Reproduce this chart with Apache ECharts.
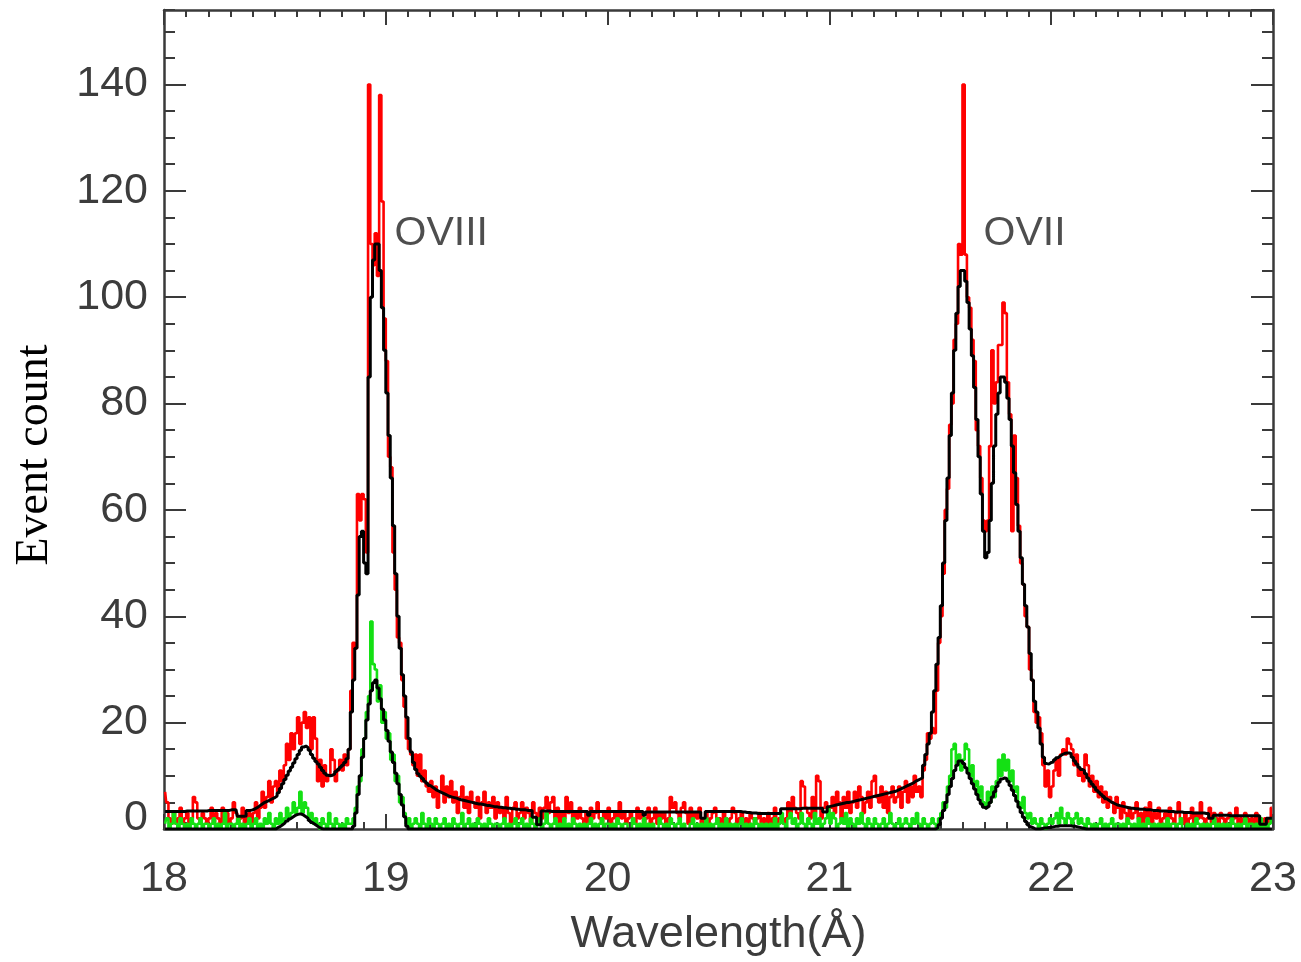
<!DOCTYPE html>
<html>
<head>
<meta charset="utf-8">
<script src="https://cdn.jsdelivr.net/npm/echarts@6/dist/echarts.min.js"></script>
<style>
html,body{margin:0;padding:0;background:#fff;}
#chart{width:1301px;height:962px;}
</style>
</head>
<body>
<div id="chart"></div>
<script>
// Wavelength grid: bins of 0.01 Angstrom starting at 18.00
const binStart = 18.0;
const binWidth = 0.01;
const xTicks = [18, 19, 20, 21, 22, 23];
const yTicks = [0, 20, 40, 60, 80, 100, 120, 140];

// Observed counts (red), one value per 0.01 A bin, 18.00 -> 22.99
const redCounts = [
 7,5,2,1,3,1,2,4,1,2,
 3,1,2,6,5,2,1,3,2,1,
 2,4,1,3,2,1,4,2,3,1,
 2,5,3,1,2,4,1,2,3,1,
 3,5,2,4,7,4,6,9,5,8,
 9,7,11,9,12,16,13,18,15,18,
 21,16,20,22,19,21,15,21,17,9,
 13,8,12,9,10,15,13,9,11,13,
 11,14,12,15,26,35,34,63,58,63,
 62,52,140,110,106,112,104,138,118,96,
 88,70,68,52,45,36,35,28,23,17,
 15,14,12,14,10,14,9,11,8,7,
 9,6,8,4,7,10,5,8,6,9,
 5,7,3,6,8,4,6,3,7,5,
 4,6,2,5,7,3,5,4,6,2,
 5,3,4,2,6,3,1,4,5,2,
 3,5,2,4,3,1,5,3,2,4,
 2,4,6,3,5,6,2,4,1,3,
 2,6,3,5,1,3,2,4,2,1,
 3,1,4,2,3,5,2,1,3,2,
 4,1,2,3,1,5,2,3,1,2,
 3,2,1,4,2,3,1,2,4,1,
 2,4,1,3,2,3,1,2,6,4,
 5,3,2,4,5,3,1,4,2,3,
 2,4,1,2,3,1,2,3,4,1,
 2,1,3,2,1,2,4,3,1,2,
 3,1,2,1,3,2,1,2,3,1,
 2,1,3,1,2,4,1,2,2,1,
 2,5,3,6,4,3,2,9,8,4,
 3,2,6,3,10,9,2,4,5,3,
 4,6,3,7,5,2,6,4,7,3,
 5,7,4,8,6,3,5,7,4,9,
 10,6,5,8,4,7,3,6,8,5,
 6,8,4,7,9,5,8,6,10,7,
 8,6,11,13,18,17,19,18,26,35,
 40,48,60,64,76,80,92,95,110,108,
 140,108,100,98,92,88,75,72,66,58,
 56,58,72,90,80,84,91,91,99,97,
 84,78,56,74,66,57,50,46,40,38,
 30,28,22,20,21,18,12,8,11,6,
 8,11,13,10,14,15,14,17,16,15,
 12,14,10,11,9,14,12,8,10,7,
 9,6,8,5,7,4,6,5,3,6,
 4,2,5,3,1,4,2,3,5,2,
 3,1,4,2,5,1,3,2,4,1,
 2,3,1,4,2,1,3,5,2,1,
 3,1,2,4,1,3,2,5,2,1,
 2,4,1,3,2,1,3,2,1,2,
 3,1,2,4,1,2,1,3,2,1,
 2,1,3,1,2,1,2,1,2,4
];

// Model for the red counts (black line)
const redModel = [
 3.3,3.3,3.3,3.3,3.3,3.3,3.3,3.3,3.3,3.3,
 3.4,3.4,3.4,3.4,3.4,3.4,3.4,3.4,3.4,3.4,
 3.5,3.5,3.5,3.5,3.5,3.5,3.5,3.5,3.5,3.5,
 3.6,3.6,3.6,2.4,2.4,2.4,2.4,3.5,3.5,3.6,
 3.8,4.0,4.3,4.6,4.9,5.1,5.3,5.5,5.7,5.9,
 6.2,6.8,7.6,8.5,9.3,10.1,10.9,11.6,12.4,13.2,
 14.0,14.8,15.4,15.6,15.3,14.8,14.0,13.3,12.7,12.2,
 11.6,11.0,10.5,10.1,10.0,10.1,10.4,10.8,11.2,11.6,
 12.0,12.5,13.2,15,22,28,34,44,55,56,
 50,48,85,100,107,110,110,105,98,90,
 82,74,66,57,48,40,34,29,25,21,
 17,14.5,12.5,11.2,10.4,9.9,9.5,9.0,8.6,8.2,
 7.9,7.6,7.3,7.1,6.9,6.7,6.5,6.3,6.1,6.0,
 5.9,5.8,5.6,5.5,5.4,5.3,5.2,5.1,5.0,4.9,
 4.8,4.7,4.7,4.6,4.5,4.4,4.4,4.3,4.2,4.2,
 4.1,4.1,4.0,4.0,3.9,3.9,3.8,3.8,3.7,3.7,
 3.6,3.6,3.6,3.5,3.5,3.5,2.2,2.2,0.8,0.8,
 3.4,3.4,3.4,3.4,3.3,3.3,3.3,3.3,3.3,3.3,
 3.3,3.3,3.3,3.3,3.3,3.3,3.3,3.3,3.3,3.3,
 3.3,2.6,3.3,3.3,3.3,3.3,3.3,3.3,3.3,3.3,
 3.3,3.3,3.3,3.3,3.3,3.3,3.3,3.3,3.3,3.3,
 3.3,3.3,3.3,3.3,3.3,3.3,2.6,3.2,3.2,3.2,
 3.2,3.2,3.2,3.2,3.2,3.2,3.2,3.2,3.2,3.2,
 3.2,3.2,3.2,3.2,3.2,3.2,3.2,3.2,3.2,3.2,
 3.2,3.2,2.0,2.0,3.3,3.3,3.3,3.3,3.3,3.3,
 3.3,3.3,3.3,3.3,3.3,3.3,3.3,3.3,3.3,3.3,
 3.2,3.2,3.1,3.1,3.0,3.0,3.0,2.9,2.9,2.9,
 2.9,2.9,2.9,2.9,2.9,2.9,2.9,2.9,3.8,3.8,
 3.8,3.8,3.8,3.8,3.8,3.8,3.8,3.9,3.9,3.9,
 3.9,3.9,3.9,3.9,3.9,3.9,3.9,3.2,3.2,4.2,
 4.3,4.4,4.5,4.6,4.7,4.8,4.9,5.0,5.0,5.1,
 5.2,5.3,5.4,5.5,5.6,5.7,5.8,5.9,6.0,6.1,
 6.2,6.3,6.4,6.5,6.6,6.7,6.8,6.9,7.0,7.1,
 7.3,7.5,7.7,7.9,8.1,8.3,8.5,8.7,9.0,9.2,
 9.4,9.6,12,14,16,18,22,26,31,36,
 42,50,58,66,74,82,90,97,102,105,
 105,103,99,94,89,83,77,70,63,56,
 51,52,58,65,72,78,82,85,85,84,
 81,77,72,67,61,56,51,46,42,38,
 33,28,24,22,19,16,13.5,12.3,12.2,12.5,
 12.6,13.0,13.4,13.7,14.0,14.2,14.3,14.3,14.2,13.5,
 12.8,12.2,11.6,11.2,11.0,10.4,9.6,9.0,8.4,7.9,
 7.3,6.9,6.5,6.1,5.7,5.4,5.1,4.9,4.7,4.5,
 4.4,4.3,4.2,4.1,4.0,3.9,3.9,3.8,3.8,3.7,
 3.7,3.7,3.6,3.6,3.6,3.5,3.5,3.5,3.4,3.4,
 3.4,3.4,3.3,3.3,3.3,3.2,3.2,3.2,3.2,3.1,
 3.1,3.1,3.1,3.0,3.0,3.0,3.0,3.0,3.0,2.9,
 2.9,2.0,2.0,2.6,2.6,2.6,2.6,2.6,2.6,2.6,
 2.5,2.5,2.5,2.5,2.5,2.5,2.5,2.5,2.5,2.5,
 2.5,2.5,2.5,2.5,0.9,0.9,0.9,2.0,2.0,2.0
];

// Second data set (green)
const greenCounts = [
 1,2,0,1,3,1,0,2,1,0,
 1,0,2,1,0,1,2,0,1,1,
 0,1,2,0,1,0,1,3,0,1,
 1,0,1,2,0,1,0,1,2,0,
 1,2,0,1,0,2,1,3,1,0,
 2,1,3,1,2,4,2,3,5,3,
 4,7,3,5,4,2,3,1,2,1,
 0,2,1,0,3,1,0,2,1,0,
 1,0,2,1,1,2,4,8,9,15,
 17,22,25,39,31,30,24,27,20,22,
 17,18,13,14,9,10,5,6,3,1,
 2,0,1,2,1,0,3,1,0,2,
 1,0,2,1,0,1,2,0,1,0,
 2,1,0,1,3,0,1,2,0,1,
 0,2,1,0,1,0,2,1,0,1,
 1,0,1,2,0,1,0,1,2,0,
 1,2,0,1,0,2,1,0,1,2,
 0,1,3,1,0,1,2,0,1,0,
 2,0,1,0,2,1,0,1,0,1,
 0,1,2,0,1,0,1,2,0,1,
 1,0,1,0,2,1,0,1,1,0,
 0,2,1,0,1,0,2,0,1,0,
 1,0,0,2,1,0,1,0,2,1,
 0,1,2,0,1,0,0,1,2,0,
 1,0,1,0,2,0,1,0,1,2,
 0,1,0,2,0,1,0,1,0,1,
 2,0,1,0,1,0,2,1,0,1,
 0,1,0,1,0,2,0,1,3,1,
 0,2,3,1,2,0,1,3,1,0,
 2,1,0,3,1,2,0,1,2,4,
 1,3,2,0,1,2,1,3,0,2,
 1,0,2,1,3,1,0,2,1,0,
 2,1,0,1,2,0,1,3,1,0,
 1,2,0,1,2,1,0,2,1,3,
 1,0,2,1,0,1,2,1,0,2,
 3,5,4,8,10,15,16,12,14,11,
 13,16,15,10,12,8,9,6,8,5,
 4,7,5,8,6,9,13,10,14,11,
 13,9,11,7,8,5,4,6,3,2,
 3,1,2,1,0,2,1,0,1,2,
 1,2,3,1,4,2,1,3,2,1,
 2,3,1,2,1,0,2,1,0,1,
 0,1,2,0,1,0,1,2,0,1,
 1,0,1,0,2,1,0,1,0,2,
 0,1,0,2,1,0,1,0,1,0,
 1,0,2,0,1,1,0,1,2,0,
 0,1,0,1,0,2,1,0,1,0,
 1,0,1,2,0,1,0,1,0,1,
 0,2,1,0,1,0,1,2,0,1,
 1,0,1,0,2,0,1,0,1,2
];

// Model for the green counts (black line at the bottom)
const greenModel = [
 0,0,0,0,0,0,0,0,0,0,
 0,0,0,0,0,0,0,0,0,0,
 0,0,0,0,0,0,0,0,0,0,
 0,0,0,0,0,0,0,0,0,0,
 0,0,0,0,0,0,0,0,0,0,
 0,0.3,0.5,0.8,1.1,1.5,1.9,2.2,2.5,2.7,
 2.8,2.8,2.6,2.3,2.0,1.6,1.2,0.9,0.6,0.3,
 0.1,0,0,0,0,0,0,0,0,0,
 0,0,0,0,0,0.5,3,6.5,10,13.5,
 17,20.5,23.5,26,27.5,28,26.5,24.5,22.5,20.5,
 18.5,16.5,14.5,12.5,10.5,8.5,6.5,4.5,2.3,0.5,
 0,0,0,0,0,0,0,0,0,0,
 0,0,0,0,0,0,0,0,0,0,
 0,0,0,0,0,0,0,0,0,0,
 0,0,0,0,0,0,0,0,0,0,
 0,0,0,0,0,0,0,0,0,0,
 0,0,0,0,0,0,0,0,0,0,
 0,0,0,0,0,0,0,0,0,0,
 0,0,0,0,0,0,0,0,0,0,
 0,0,0,0,0,0,0,0,0,0,
 0,0,0,0,0,0,0,0,0,0,
 0,0,0,0,0,0,0,0,0,0,
 0,0,0,0,0,0,0,0,0,0,
 0,0,0,0,0,0,0,0,0,0,
 0,0,0,0,0,0,0,0,0,0,
 0,0,0,0,0,0,0,0,0,0,
 0,0,0,0,0,0,0,0,0,0,
 0,0,0,0,0,0,0,0,0,0,
 0,0,0,0,0,0,0,0,0,0,
 0,0,0,0,0,0,0,0,0,0,
 0,0,0,0,0,0,0,0,0,0,
 0,0,0,0,0,0,0,0,0,0,
 0,0,0,0,0,0,0,0,0,0,
 0,0,0,0,0,0,0,0,0,0,
 0,0,0,0,0,0,0,0,0.2,0.8,
 2,3.5,5,6.5,8,9.5,11,12,12.8,12.8,
 12.3,11.5,10.5,9.5,8.5,7.5,6.5,5.5,4.7,4.1,
 3.8,4.2,5,6,7,8,8.8,9.4,9.6,9.5,
 9,8.2,7.3,6.3,5.2,4.1,3.1,2.2,1.4,0.8,
 0.4,0.2,0,0,0,0.1,0.2,0.2,0.3,0.3,
 0.4,0.5,0.5,0.6,0.6,0.6,0.6,0.6,0.6,0.5,
 0.5,0.4,0.3,0.2,0.1,0,0,0,0,0,
 0,0,0,0,0,0,0,0,0,0,
 0,0,0,0,0,0,0,0,0,0,
 0,0,0,0,0,0,0,0,0,0,
 0,0,0,0,0,0,0,0,0,0,
 0,0,0,0,0,0,0,0,0,0,
 0,0,0,0,0,0,0,0,0,0,
 0,0,0,0,0,0,0,0,0,0,
 0,0,0,0,0,0,0,0,0,0
];

// Line annotations: [wavelength, count, label]
const lineLabels = [
 [19.25, 112, 'OVIII'],
 [21.88, 112, 'OVII']
];

const toPairs = arr => arr.map((v, i) => [+(binStart + (i + 0.5) * binWidth).toFixed(3), v]);

const AX = '#3a3a3a';
const labelFont = 'Liberation Sans, Arial, sans-serif';
const TXT = '#3c3c3c';

const chart = echarts.init(document.getElementById('chart'), null, {renderer: 'canvas'});

const baseX = {
  type: 'value', min: 18, max: 23, interval: 1, gridIndex: 0,
  axisLine: {show: true, onZero: false, lineStyle: {color: AX, width: 2.5}},
  axisTick: {show: true, inside: true, length: 15, lineStyle: {color: AX, width: 2}},
  minorTick: {show: true, splitNumber: 10, length: 7, lineStyle: {color: AX, width: 2}},
  splitLine: {show: false}, minorSplitLine: {show: false}
};
const baseY = (interval, len, pos, lineShow) => ({
  type: 'value', min: 0, max: 154, interval: interval, gridIndex: 0, position: pos,
  axisLine: {show: lineShow, onZero: false, lineStyle: {color: AX, width: 2.5}},
  axisTick: {show: true, inside: true, length: len, lineStyle: {color: AX, width: 2}},
  axisLabel: {show: false},
  splitLine: {show: false}
});

const option = {
  animation: false,
  backgroundColor: '#ffffff',
  grid: {left: 164, right: 28, top: 10, bottom: 133, containLabel: false},
  xAxis: [
    Object.assign({}, baseX, {
      position: 'bottom',
      axisLabel: {show: true, fontSize: 43, color: TXT, fontFamily: labelFont, margin: 29,
        formatter: v => xTicks.includes(v) ? String(v) : ''},
      name: 'Wavelength(Å)', nameLocation: 'middle', nameGap: 83,
      nameTextStyle: {fontSize: 45, color: TXT, fontFamily: labelFont}
    }),
    Object.assign({}, baseX, {position: 'top', axisLabel: {show: false}})
  ],
  yAxis: [
    Object.assign(baseY(20, 22, 'left', true), {
      axisLabel: {show: true, fontSize: 43, color: TXT, fontFamily: labelFont, margin: 16,
        showMaxLabel: false,
        formatter: v => v === 0 ? '{z|0}' : (yTicks.includes(v) ? String(v) : ''),
        rich: {z: {fontSize: 43, color: TXT, fontFamily: labelFont, padding: [0, 0, 22, 0]}}}
    }),
    baseY(5, 11, 'left', false),
    baseY(20, 22, 'right', true),
    baseY(5, 11, 'right', false)
  ],
  graphic: [{
    type: 'text', x: 35, y: 455, rotation: Math.PI / 2,
    style: {text: 'Event count', font: '46px "Liberation Serif", "Times New Roman", serif',
      fill: '#000', align: 'center', verticalAlign: 'middle',
      textAlign: 'center', textVerticalAlign: 'middle'}
  }],
  series: [
    {type: 'line', name: 'counts', xAxisIndex: 0, yAxisIndex: 0, step: 'middle', showSymbol: false,
      data: toPairs(redCounts), lineStyle: {color: '#ff0000', width: 2.6}, z: 2},
    {type: 'line', name: 'counts2', xAxisIndex: 0, yAxisIndex: 0, step: 'middle', showSymbol: false,
      data: toPairs(greenCounts), lineStyle: {color: '#14e014', width: 2.6}, z: 3},
    {type: 'line', name: 'model', xAxisIndex: 0, yAxisIndex: 0, step: 'middle', showSymbol: false,
      data: toPairs(redModel), lineStyle: {color: '#000000', width: 3}, z: 4},
    {type: 'line', name: 'model2', xAxisIndex: 0, yAxisIndex: 0, step: 'middle', showSymbol: false,
      data: toPairs(greenModel), lineStyle: {color: '#000000', width: 3}, z: 5},
    {type: 'scatter', name: 'labels', xAxisIndex: 0, yAxisIndex: 0, symbolSize: 1,
      itemStyle: {color: 'rgba(0,0,0,0)'},
      data: lineLabels.map(d => ({value: [d[0], d[1]], name: d[2]})),
      label: {show: true, position: 'inside', formatter: p => p.name,
        fontSize: 41, color: '#222', fontFamily: labelFont}, z: 6}
  ]
};
chart.setOption(option);
</script>
</body>
</html>
